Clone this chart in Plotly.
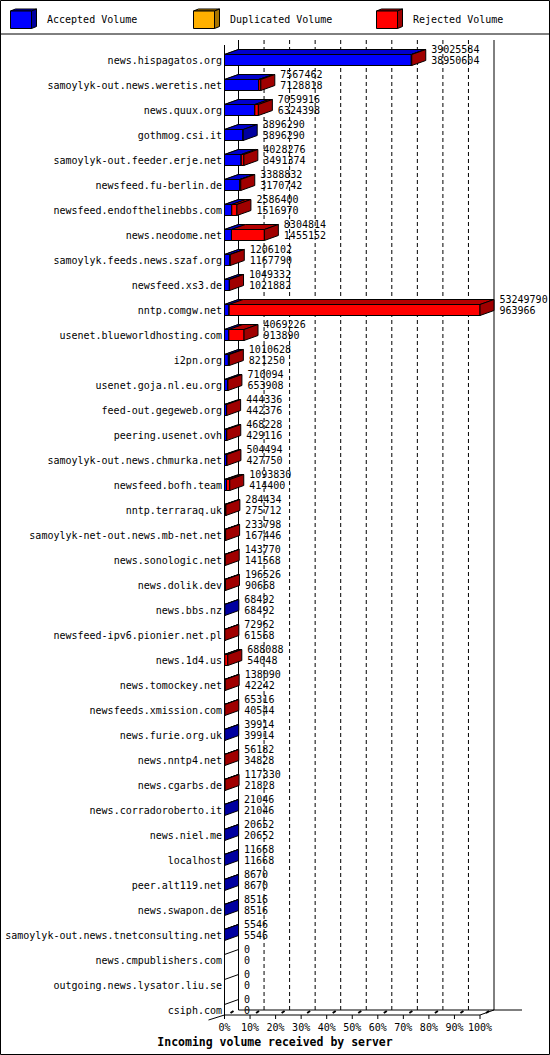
"""
Incoming volume per news server (innreport style), redrawn with plotly.
Front faces are plain stacked bars, the fake 3D top/side faces are
filled scatter polygons built from the same numbers.
"""

import plotly.graph_objects as go

servers = [
    "news.hispagatos.org", "samoylyk-out.news.weretis.net", "news.quux.org",
    "gothmog.csi.it", "samoylyk-out.feeder.erje.net", "newsfeed.fu-berlin.de",
    "newsfeed.endofthelinebbs.com", "news.neodome.net",
    "samoylyk.feeds.news.szaf.org", "newsfeed.xs3.de", "nntp.comgw.net",
    "usenet.blueworldhosting.com", "i2pn.org", "usenet.goja.nl.eu.org",
    "feed-out.gegeweb.org", "peering.usenet.ovh",
    "samoylyk-out.news.chmurka.net", "newsfeed.bofh.team", "nntp.terraraq.uk",
    "samoylyk-net-out.news.mb-net.net", "news.sonologic.net", "news.dolik.dev",
    "news.bbs.nz", "newsfeed-ipv6.pionier.net.pl", "news.1d4.us",
    "news.tomockey.net", "newsfeeds.xmission.com", "news.furie.org.uk",
    "news.nntp4.net", "news.cgarbs.de", "news.corradoroberto.it",
    "news.niel.me", "localhost", "peer.alt119.net", "news.swapon.de",
    "samoylyk-out.news.tnetconsulting.net", "news.cmpublishers.com",
    "outgoing.news.lysator.liu.se", "csiph.com",
]

# total offered volume (upper number next to each bar)
offered = [
    39025584, 7567462, 7059916, 3896290, 4028276, 3388832, 2586400, 8304814,
    1206102, 1049332, 53249790, 4069226, 1010628, 710094, 444336, 468228,
    504494, 1093830, 284434, 233798, 143770, 196526, 68492, 72962, 688088,
    138090, 65316, 39914, 56182, 117330, 21046, 20652, 11668, 8670, 8516,
    5546, 0, 0, 0,
]

# accepted volume (lower number)
accepted = [
    38950604, 7128818, 6324398, 3896290, 3491374, 3170742, 1516970, 1455152,
    1167790, 1021882, 963966, 913890, 821250, 653908, 442376, 429116,
    427750, 414400, 275712, 167446, 141568, 90668, 68492, 61568, 54048,
    42242, 40544, 39914, 34828, 21828, 21046, 20652, 11668, 8670, 8516,
    5546, 0, 0, 0,
]

duplicated = [0] * len(servers)

legend_names = ["Accepted Volume", "Duplicated Volume", "Rejected Volume"]
front_colors = ["#0000ff", "#ffb000", "#ff0000"]
top_colors = ["#0000cc", "#c88a00", "#b40000"]
side_colors = ["#0000a0", "#a87400", "#a00000"]

pct_ticks = [0, 10, 20, 30, 40, 50, 60, 70, 80, 90, 100]

FONT = "DejaVu Sans Mono"

# page geometry in pixels
W, H = 550, 1055
PLOT_L, PLOT_R, PLOT_T, PLOT_B = 223, 549, 40, 1020
ZERO_PX = 224.5        # where 0% sits on the front edge
PX_PER_PCT = 2.555
FIRST_ROW_PX = 60
ROW_PX = 25

DX = 14 / PX_PER_PCT   # depth of the 3D effect, in x units
DY = 5 / ROW_PX        # depth of the 3D effect, in row units
HALF = 5.5 / ROW_PX    # half height of a bar front face


def paper_x(px):
    return (px - PLOT_L) / (PLOT_R - PLOT_L)


def paper_y(py):
    return (PLOT_B - py) / (PLOT_B - PLOT_T)


n = len(servers)
rows = list(range(n))
scale = 100.0 / max(offered)
rejected = [o - a - d for o, a, d in zip(offered, accepted, duplicated)]
segments = [
    [v * scale for v in accepted],
    [v * scale for v in duplicated],
    [v * scale for v in rejected],
]
totals = [v * scale for v in offered]

fig = go.Figure()

# front faces
base = [0.0] * n
for k in range(3):
    fig.add_trace(go.Bar(
        y=rows, x=segments[k], base=list(base), orientation="h",
        width=2 * HALF, name=legend_names[k], showlegend=False,
        marker=dict(color=front_colors[k], line=dict(color="black", width=1)),
        hoverinfo="skip",
    ))
    base = [b + s for b, s in zip(base, segments[k])]

# top and side faces
top_x = [[], [], []]
top_y = [[], [], []]
side_x = [[], [], []]
side_y = [[], [], []]
for i in rows:
    x0 = 0.0
    last = None
    yt = i - HALF
    for k in range(3):
        w = segments[k][i]
        if w <= 0:
            continue
        x1 = x0 + w
        top_x[k] += [x0, x0 + DX, x1 + DX, x1, x0, None]
        top_y[k] += [yt, yt - DY, yt - DY, yt, yt, None]
        x0 = x1
        last = k
    if last is not None:
        t = totals[i]
        side_x[last] += [t, t + DX, t + DX, t, t, None]
        side_y[last] += [yt, yt - DY, i + HALF - DY, i + HALF, yt, None]

for k in range(3):
    for xs, ys, col in ((top_x[k], top_y[k], top_colors[k]),
                        (side_x[k], side_y[k], side_colors[k])):
        if not xs:
            continue
        fig.add_trace(go.Scatter(
            x=xs, y=ys, mode="lines", fill="toself", fillcolor=col,
            line=dict(color="black", width=1), showlegend=False,
            hoverinfo="skip",
        ))

# numbers next to the bars
label_x = [t + DX + 5.5 / PX_PER_PCT for t in totals]
fig.add_trace(go.Scatter(
    x=label_x, y=[i - 0.37 for i in rows], text=[str(v) for v in offered],
    mode="text", textposition="middle right", showlegend=False,
    textfont=dict(family=FONT, size=10, color="black"), hoverinfo="skip",
))
fig.add_trace(go.Scatter(
    x=label_x, y=[i + 0.07 for i in rows], text=[str(v) for v in accepted],
    mode="text", textposition="middle right", showlegend=False,
    textfont=dict(family=FONT, size=10, color="black"), hoverinfo="skip",
))

# box walls, floor and grid
shapes = []
line = dict(color="black", width=1)
floor_front = n - 1 + DY
floor_back = n - 1
wall_top = (PLOT_T - FIRST_ROW_PX) / ROW_PX

shapes.append(dict(type="line", x0=DX, x1=DX, y0=wall_top, y1=floor_back, line=line))
shapes.append(dict(type="line", x0=100 + DX, x1=100 + DX, y0=wall_top, y1=floor_back, line=line))
shapes.append(dict(type="line", x0=0, x1=0, y0=wall_top + DY, y1=floor_front, line=line))
for p in pct_ticks[1:-1]:
    shapes.append(dict(type="line", x0=p + DX, x1=p + DX, y0=wall_top, y1=floor_back,
                       line=dict(color="black", width=1, dash="4px,3px")))
shapes.append(dict(type="line", x0=0, x1=100, y0=floor_front, y1=floor_front, line=line))
shapes.append(dict(type="line", x0=DX, x1=(522 - ZERO_PX) / PX_PER_PCT,
                   y0=floor_back, y1=floor_back, line=line))
shapes.append(dict(type="line", x0=100, x1=100 + DX, y0=floor_front, y1=floor_back, line=line))
fpx = FIRST_ROW_PX + ROW_PX * floor_front
shapes.append(dict(type="line", xref="paper", yref="paper",
                   x0=paper_x(ZERO_PX - 16), y0=paper_y(fpx + 5),
                   x1=paper_x(ZERO_PX), y1=paper_y(fpx), line=line))
for i in rows:
    shapes.append(dict(type="line", x0=0, x1=DX, y0=i - HALF, y1=i - HALF - DY, line=line))
for p in pct_ticks:
    shapes.append(dict(type="line", x0=p, x1=p, y0=floor_front, y1=floor_front + 4 / ROW_PX,
                       line=line))
    shapes.append(dict(type="line", x0=p + 6 / PX_PER_PCT, x1=p + 9 / PX_PER_PCT,
                       y0=floor_front - 2 / ROW_PX, y1=floor_front - 4 / ROW_PX,
                       line=dict(color="black", width=2)))
for s in shapes:
    s.setdefault("xref", "x")
    s.setdefault("yref", "y")
    s["layer"] = "below"

# page frame and legend strip
pl = dict(xref="paper", yref="paper", layer="above")
shapes.append(dict(type="rect", x0=paper_x(0.5), x1=paper_x(W - 0.5),
                   y0=paper_y(0.5), y1=paper_y(H - 0.5), line=line, **pl))
shapes.append(dict(type="line", x0=paper_x(0), x1=paper_x(W), y0=paper_y(34),
                   y1=paper_y(34), line=line, **pl))

annotations = []
for k, name in enumerate(legend_names):
    cx = 10.5 + 183 * k
    fx0, fx1, fy0, fy1 = cx, cx + 21, 11, 28.5
    shapes.append(dict(type="path", path="M {} {} L {} {} L {} {} L {} {} Z".format(
        paper_x(fx0), paper_y(fy0), paper_x(fx0 + 5), paper_y(fy0 - 2),
        paper_x(fx1 + 5), paper_y(fy0 - 2), paper_x(fx1), paper_y(fy0)),
        fillcolor=top_colors[k], line=line, **pl))
    shapes.append(dict(type="path", path="M {} {} L {} {} L {} {} L {} {} Z".format(
        paper_x(fx1), paper_y(fy0), paper_x(fx1 + 5), paper_y(fy0 - 2),
        paper_x(fx1 + 5), paper_y(fy1 - 2), paper_x(fx1), paper_y(fy1)),
        fillcolor=side_colors[k], line=line, **pl))
    shapes.append(dict(type="rect", x0=paper_x(fx0), x1=paper_x(fx1),
                       y0=paper_y(fy0), y1=paper_y(fy1),
                       fillcolor=front_colors[k], line=line, **pl))
    annotations.append(dict(xref="paper", yref="paper", x=paper_x(cx + 34), y=paper_y(20),
                            xanchor="left", yanchor="middle", showarrow=False, text=name,
                            font=dict(family=FONT, size=10, color="black")))

fig.update_layout(
    width=W, height=H,
    margin=dict(l=PLOT_L, r=W - PLOT_R, t=PLOT_T, b=H - PLOT_B),
    paper_bgcolor="white", plot_bgcolor="white",
    barmode="overlay", showlegend=False,
    shapes=shapes, annotations=annotations,
    title=dict(text="Incoming volume received by server", x=0.5, xref="container",
               xanchor="center", y=1 - 1042 / H, yref="container", yanchor="middle",
               font=dict(family=FONT, size=11.5, color="black", weight="bold")),
    xaxis=dict(range=[(PLOT_L - ZERO_PX) / PX_PER_PCT, (PLOT_R - ZERO_PX) / PX_PER_PCT],
               tickvals=pct_ticks, ticktext=[f"{p}%" for p in pct_ticks],
               showgrid=False, zeroline=False, showline=False, ticks="",
               tickfont=dict(family=FONT, size=10, color="black"), fixedrange=True),
    yaxis=dict(range=[(PLOT_B - FIRST_ROW_PX) / ROW_PX, (PLOT_T - FIRST_ROW_PX) / ROW_PX],
               tickvals=rows, ticktext=servers,
               showgrid=False, zeroline=False, showline=False, ticks="",
               tickfont=dict(family=FONT, size=10, color="black"), fixedrange=True),
)

# the page body has a default 8px margin; drop it so the figure sits at 0,0
fig.write_html("out.html", config={"displayModeBar": False},
               post_script="document.body.style.margin = '0';")
